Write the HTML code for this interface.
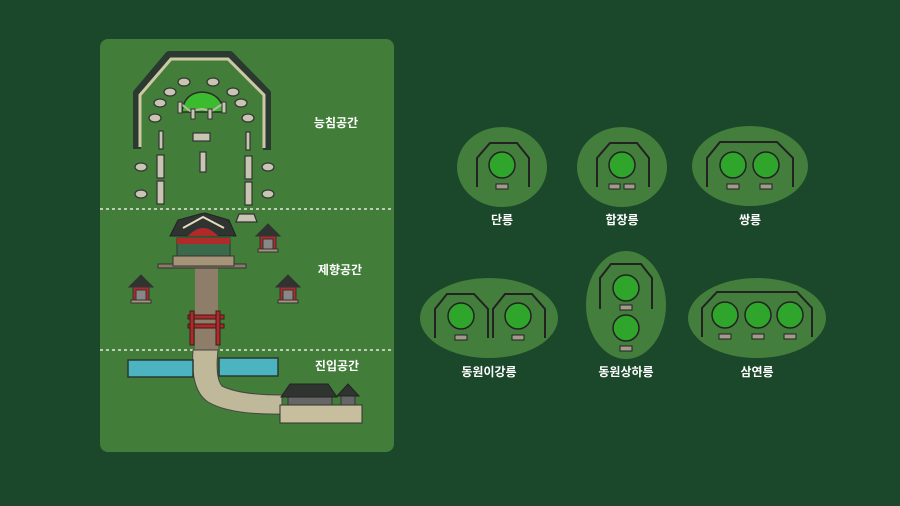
<!DOCTYPE html>
<html><head><meta charset="utf-8"><style>
html,body{margin:0;padding:0;background:#1b472b;}
svg{display:block}
text{font-family:"Liberation Sans","Noto Sans CJK KR",sans-serif;font-weight:bold;fill:#fff;font-size:12px;text-anchor:middle}
</style></head><body>
<svg width="900" height="506" viewBox="0 0 900 506" xmlns="http://www.w3.org/2000/svg">
<rect width="900" height="506" fill="#1b472b"/>
<rect x="100" y="39" width="294" height="413" rx="8" fill="#427d3a"/>
<line x1="100" y1="209" x2="394" y2="209" stroke="#e8e8e0" stroke-width="1.5" stroke-dasharray="3,3"/>
<line x1="100" y1="350" x2="394" y2="350" stroke="#e8e8e0" stroke-width="1.5" stroke-dasharray="3,3"/>
<!-- wall -->
<polyline points="137,149 137,93 169,55 230,55 267,93 267,150" fill="none" stroke="#2b3a30" stroke-width="8" stroke-linejoin="round"/>
<polyline points="140,147 140,95 171,59 228,59 264,95 264,148" fill="none" stroke="#cfc8a6" stroke-width="3"/>
<!-- mound -->
<path d="M182,112 Q184,93 202,92 Q221,93 224,112 Z" fill="#3bbb2e" stroke="#2a2a2a" stroke-width="1.5"/>
<polyline points="180,103 190,111 202,109 212,111 224,103" fill="none" stroke="#bdb8a5" stroke-width="2"/>
<g fill="#c9c5b3" stroke="#333" stroke-width="1">
<rect x="178" y="102" width="4" height="11"/><rect x="191" y="109" width="4" height="10"/><rect x="208" y="109" width="4" height="10"/><rect x="222" y="102" width="4" height="11"/>
</g>
<!-- animals -->
<g fill="#c9c5b3" stroke="#333" stroke-width="1.2">
<ellipse cx="184" cy="82" rx="6" ry="4"/><ellipse cx="213" cy="82" rx="6" ry="4"/>
<ellipse cx="170" cy="92" rx="6" ry="4"/><ellipse cx="233" cy="92" rx="6" ry="4"/>
<ellipse cx="160" cy="103" rx="6" ry="4"/><ellipse cx="241" cy="103" rx="6" ry="4"/>
<ellipse cx="155" cy="118" rx="6" ry="4"/><ellipse cx="248" cy="118" rx="6" ry="4"/>
<ellipse cx="141" cy="167" rx="6" ry="4"/><ellipse cx="268" cy="167" rx="6" ry="4"/>
<ellipse cx="141" cy="194" rx="6" ry="4"/><ellipse cx="268" cy="194" rx="6" ry="4"/>
<rect x="159" y="131" width="4" height="18"/><rect x="246" y="132" width="4" height="18"/>
<rect x="193" y="133" width="17" height="8"/>
<rect x="200" y="152" width="6" height="20"/>
<rect x="157" y="155" width="7" height="23"/><rect x="245" y="156" width="7" height="23"/>
<rect x="157" y="181" width="7" height="23"/><rect x="245" y="182" width="7" height="23"/>
<path d="M236,222 L239,214 L254,214 L257,222 Z"/>
</g>
<!-- path -->
<rect x="195" y="266" width="23" height="86" fill="#8d7d69"/>
<path d="M193,350 L218,350 Q215,378 222,386 Q240,395 282,395 L282,414 Q230,415 208,402 Q190,390 193,350 Z" fill="#bfb899" stroke="#444" stroke-width="1"/>
<!-- river -->
<rect x="128" y="360" width="65" height="17" fill="#4cb3c0" stroke="#2b3a30" stroke-width="1.5"/>
<rect x="219" y="358" width="59" height="18" fill="#4cb3c0" stroke="#2b3a30" stroke-width="1.5"/>
<!-- gate -->
<g fill="#b02a2a" stroke="#3a1a1a" stroke-width="1">
<rect x="188" y="315" width="36" height="4"/><rect x="188" y="324" width="36" height="4"/>
<rect x="190" y="311" width="4" height="34"/><rect x="216" y="311" width="4" height="34"/>
</g>
<!-- main hall -->
<rect x="158" y="264" width="88" height="4" fill="#8a7a66" stroke="#333" stroke-width="1"/>
<rect x="173" y="256" width="61" height="10" fill="#a69478" stroke="#333" stroke-width="1"/>
<rect x="177" y="238" width="53" height="18" fill="#3a6a4a" stroke="#333" stroke-width="1"/>
<rect x="177" y="238" width="53" height="6" fill="#b02a2a"/>
<path d="M170,236 L178,220 L200,214 L205,213 L229,220 L236,236 Z" fill="#2f3430" stroke="#222" stroke-width="1"/>
<path d="M188,236 Q203,220 218,236 Z" fill="#b02a2a"/>
<polyline points="183,228 203,217 224,228" fill="none" stroke="#e6dcc0" stroke-width="2"/>
<!-- shrines -->
<g stroke="#333" stroke-width="1">
<g transform="translate(268,236)"><path d="M-12,0 L0,-12 L12,0 Z" fill="#2f3430"/><rect x="-8" y="0" width="16" height="13" fill="#b02a2a"/><rect x="-5" y="3" width="10" height="10" fill="#888"/><rect x="-10" y="13" width="20" height="3" fill="#a69478"/></g>
<g transform="translate(141,287)"><path d="M-12,0 L0,-12 L12,0 Z" fill="#2f3430"/><rect x="-8" y="0" width="16" height="13" fill="#b02a2a"/><rect x="-5" y="3" width="10" height="10" fill="#888"/><rect x="-10" y="13" width="20" height="3" fill="#a69478"/></g>
<g transform="translate(288,287)"><path d="M-12,0 L0,-12 L12,0 Z" fill="#2f3430"/><rect x="-8" y="0" width="16" height="13" fill="#b02a2a"/><rect x="-5" y="3" width="10" height="10" fill="#888"/><rect x="-10" y="13" width="20" height="3" fill="#a69478"/></g>
</g>
<!-- entry building -->
<rect x="280" y="405" width="82" height="18" fill="#c6be9c" stroke="#333" stroke-width="1"/>
<rect x="288" y="395" width="44" height="10" fill="#666" stroke="#333" stroke-width="1"/>
<path d="M281,397 L290,384 L328,384 L337,397 Z" fill="#2f3430" stroke="#222"/>
<rect x="341" y="394" width="14" height="11" fill="#666" stroke="#333"/>
<path d="M337,396 L348,384 L359,396 Z" fill="#2f3430" stroke="#222"/>
<text x="336" y="127">능침공간</text>
<text x="340" y="274">제향공간</text>
<text x="337" y="370">진입공간</text>

<!-- right side -->
<g fill="#437e3c">
<ellipse cx="502" cy="167" rx="45" ry="40"/>
<ellipse cx="622" cy="167" rx="45" ry="40"/>
<ellipse cx="750" cy="166" rx="58" ry="40"/>
<ellipse cx="489" cy="318" rx="69" ry="40"/>
<ellipse cx="626" cy="305" rx="40" ry="54"/>
<ellipse cx="757" cy="318" rx="69" ry="40"/>
</g>
<g fill="none" stroke="#222" stroke-width="2">
<polyline points="477,187 477,158 490,143 517,143 529,158 529,187"/>
<polyline points="597,187 597,158 610,143 637,143 649,158 649,187"/>
<polyline points="707,187 707,158 720,142 777,142 793,158 793,187"/>
<polyline points="435,338 435,309 447,294 474,294 488,309 488,338"/>
<polyline points="493,338 493,309 505,294 532,294 545,309 545,338"/>
<polyline points="600,309 600,278 611,264 641,264 652,278 652,309"/>
<polyline points="702,337 702,308 717,292 797,292 812,308 812,337"/>
</g>
<g fill="#2fa52b" stroke="#222" stroke-width="1.5">
<circle cx="502" cy="165" r="13"/>
<circle cx="622" cy="165" r="13"/>
<circle cx="733" cy="165" r="13"/><circle cx="766" cy="165" r="13"/>
<circle cx="461" cy="316" r="13"/><circle cx="518" cy="316" r="13"/>
<circle cx="626" cy="288" r="13"/><circle cx="626" cy="328" r="13"/>
<circle cx="725" cy="315" r="13"/><circle cx="758" cy="315" r="13"/><circle cx="790" cy="315" r="13"/>
</g>
<g fill="#a39a8c" stroke="#222" stroke-width="1">
<rect x="496" y="184" width="12" height="5"/>
<rect x="609" y="184" width="11" height="5"/><rect x="624" y="184" width="11" height="5"/>
<rect x="727" y="184" width="12" height="5"/><rect x="760" y="184" width="12" height="5"/>
<rect x="455" y="335" width="12" height="5"/><rect x="512" y="335" width="12" height="5"/>
<rect x="620" y="305" width="12" height="5"/><rect x="620" y="346" width="12" height="5"/>
<rect x="719" y="334" width="12" height="5"/><rect x="752" y="334" width="12" height="5"/><rect x="784" y="334" width="12" height="5"/>
</g>
<text x="502" y="224">단릉</text>
<text x="622" y="224">합장릉</text>
<text x="750" y="224">쌍릉</text>
<text x="489" y="376">동원이강릉</text>
<text x="626" y="376">동원상하릉</text>
<text x="757" y="376">삼연릉</text>
</svg>
</body></html>
